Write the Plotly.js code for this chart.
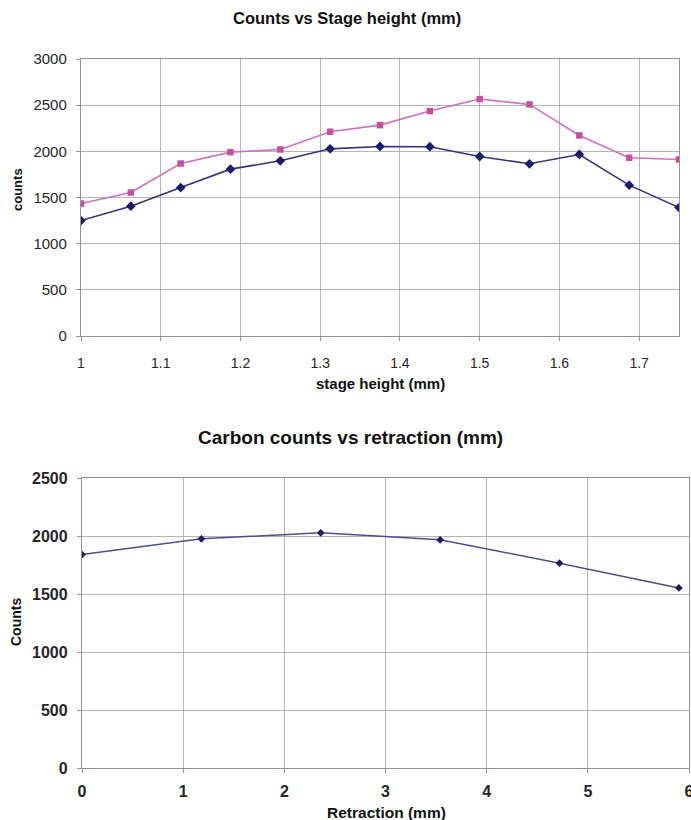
<!DOCTYPE html>
<html>
<head>
<meta charset="utf-8">
<script src="https://cdn.plot.ly/plotly-3.0.1.min.js"></script>
<style>html,body{margin:0;padding:0;background:#fff;}#chart{width:691px;height:820px;}</style>
</head>
<body>
<div id="chart"></div>
<script>
// Top chart: counts vs stage height
var stageHeight = [1, 1.0625, 1.125, 1.1875, 1.25, 1.3125, 1.375, 1.4375, 1.5, 1.5625, 1.625, 1.6875, 1.75];
var countsBlue  = [1250, 1406, 1608, 1807, 1897, 2027, 2053, 2050, 1944, 1865, 1966, 1634, 1391];
var countsPink  = [1435, 1554, 1868, 1991, 2020, 2212, 2284, 2436, 2566, 2508, 2172, 1930, 1912];

// Bottom chart: carbon counts vs retraction
var retraction   = [0, 1.18, 2.36, 3.54, 4.72, 5.9];
var carbonCounts = [1840, 1976, 2027, 1967, 1766, 1552];

var W = 691, H = 820;
function px(x){ return x / W; }
function py(y){ return 1 - y / H; }

var fontFam = 'Liberation Sans, Arial, sans-serif';

var traces = [
  {x: stageHeight, y: countsBlue, type: 'scatter', mode: 'lines+markers', xaxis: 'x', yaxis: 'y',
   line: {color: '#34347e', width: 1.6}, marker: {symbol: 'diamond', size: 7.5, color: '#1c1c6a'}},
  {x: stageHeight, y: countsPink, type: 'scatter', mode: 'lines+markers', xaxis: 'x', yaxis: 'y',
   line: {color: '#cf6fbf', width: 1.6}, marker: {symbol: 'square', size: 6.5, color: '#c4509f'}},
  {x: retraction, y: carbonCounts, type: 'scatter', mode: 'lines+markers', xaxis: 'x2', yaxis: 'y2',
   line: {color: '#4e4e8c', width: 1.5}, marker: {symbol: 'diamond', size: 6, color: '#1c1c5e'}}
];

var axCommon = {
  showgrid: true, gridcolor: '#b4b4b4', gridwidth: 1,
  showline: true, linecolor: '#9a9090', linewidth: 1.2, mirror: true,
  ticks: 'outside', ticklen: 4, tickcolor: '#9a9090',
  zeroline: false, fixedrange: true, ticklabeloverflow: 'allow'
};

function ax(extra){ var o = {}; for (var k in axCommon) o[k] = axCommon[k]; for (var k2 in extra) o[k2] = extra[k2]; return o; }

var layout = {
  width: W, height: H,
  margin: {l: 0, r: 0, t: 0, b: 0},
  paper_bgcolor: '#ffffff', plot_bgcolor: '#ffffff',
  showlegend: false,
  xaxis: ax({domain: [px(81), px(679)], range: [1, 1.75], dtick: 0.1, tick0: 1, anchor: 'y',
             tickfont: {family: fontFam, size: 14, color: '#262626'}, ticklabelstandoff: 10}),
  yaxis: ax({domain: [py(336), py(59)], range: [0, 3000], dtick: 500, anchor: 'x',
             tickfont: {family: fontFam, size: 15, color: '#262626'}, ticklabelstandoff: 6}),
  xaxis2: ax({domain: [px(82), px(689)], range: [0, 6], dtick: 1, anchor: 'y2',
              tickfont: {family: fontFam, size: 16, color: '#262626', weight: 'bold'}, ticklabelstandoff: 5}),
  yaxis2: ax({domain: [py(768), py(478)], range: [0, 2500], dtick: 500, anchor: 'x2',
              tickfont: {family: fontFam, size: 16, color: '#262626', weight: 'bold'}, ticklabelstandoff: 6}),
  annotations: [
    {text: '<b>Counts vs Stage height (mm)</b>', x: px(347), y: py(18), xref: 'paper', yref: 'paper',
     xanchor: 'center', yanchor: 'middle', showarrow: false, font: {family: fontFam, size: 16.5, color: '#111'}},
    {text: '<b>stage height (mm)</b>', x: px(380), y: py(383), xref: 'paper', yref: 'paper',
     xanchor: 'center', yanchor: 'middle', showarrow: false, font: {family: fontFam, size: 15, color: '#111'}},
    {text: '<b>counts</b>', x: px(17), y: py(190), xref: 'paper', yref: 'paper', textangle: -90,
     xanchor: 'center', yanchor: 'middle', showarrow: false, font: {family: fontFam, size: 13, color: '#111'}},
    {text: '<b>Carbon counts vs retraction (mm)</b>', x: px(350), y: py(437), xref: 'paper', yref: 'paper',
     xanchor: 'center', yanchor: 'middle', showarrow: false, font: {family: fontFam, size: 19, color: '#111'}},
    {text: '<b>Retraction (mm)</b>', x: px(386), y: py(812), xref: 'paper', yref: 'paper',
     xanchor: 'center', yanchor: 'middle', showarrow: false, font: {family: fontFam, size: 15.5, color: '#111'}},
    {text: '<b>Counts</b>', x: px(16), y: py(622), xref: 'paper', yref: 'paper', textangle: -90,
     xanchor: 'center', yanchor: 'middle', showarrow: false, font: {family: fontFam, size: 14, color: '#111'}}
  ]
};

Plotly.newPlot('chart', traces, layout, {staticPlot: true, displayModeBar: false});
</script>
</body>
</html>
